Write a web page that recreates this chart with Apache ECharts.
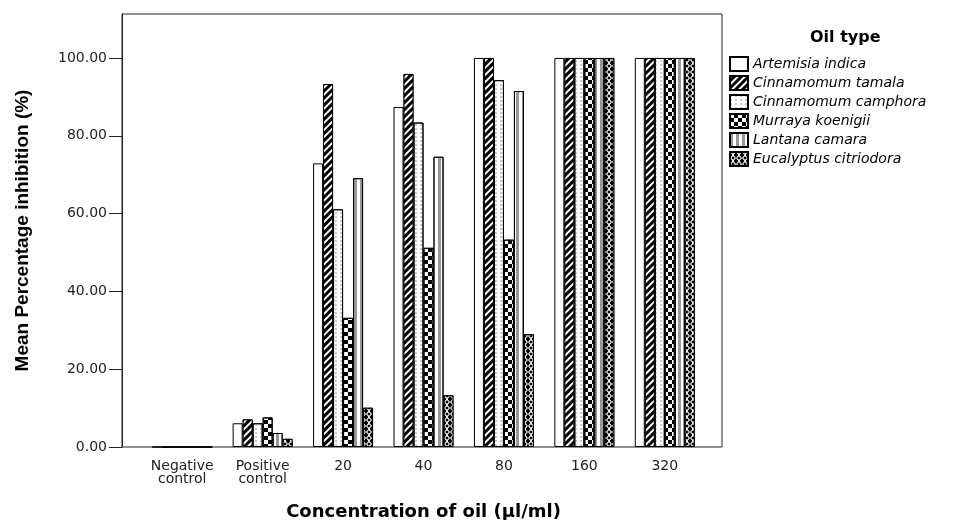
<!DOCTYPE html>
<html>
<head>
<meta charset="utf-8">
<title>Mean Percentage inhibition</title>
<script src="https://cdn.jsdelivr.net/npm/echarts@6/dist/echarts.min.js"></script>
<style>
    html, body { margin: 0; padding: 0; background: #fff; }
    #chart { width: 963px; height: 520px; }
</style>
</head>
<body>
<div id="chart"></div>
<script>
// data
const categories = ['Negative\ncontrol', 'Positive\ncontrol', '20', '40', '80', '160', '320'];
const oilNames = ['Artemisia indica', 'Cinnamomum tamala', 'Cinnamomum camphora', 'Murraya koenigii', 'Lantana camara', 'Eucalyptus citriodora'];
const artemisia = [0, 6.1, 72.9, 87.4, 100, 100, 100];
const tamala = [0, 7.1, 93.3, 95.9, 100, 100, 100];
const camphora = [0, 6.1, 61.1, 83.4, 94.3, 100, 100];
const murraya = [0, 7.6, 33.2, 51.2, 53.3, 100, 100];
const lantana = [0, 3.6, 69.1, 74.6, 91.5, 100, 100];
const eucalyptus = [0, 2.1, 10.1, 13.3, 29.0, 100, 100];
const yTicks = [0, 20, 40, 60, 80, 100];

// fill patterns, one per oil
const fills = [
    { color: '#fff', decal: null },
    { color: '#000', decal: { symbol: 'rect', symbolSize: 1, color: '#fff', dashArrayX: [1, 0], dashArrayY: [2, 3], rotation: -Math.PI / 4 } },
    { color: '#fff', decal: { symbol: 'rect', symbolSize: 0.7, color: '#999', dashArrayX: [2, 3], dashArrayY: [2, 2] } },
    { color: '#fff', decal: { symbol: 'rect', symbolSize: 1, color: '#000', dashArrayX: [[4, 4], [0, 4, 4, 0]], dashArrayY: [4, 0] } },
    { color: '#fff', decal: { symbol: 'rect', symbolSize: 1, color: '#999', dashArrayX: [3, 3], dashArrayY: [1, 0] } },
    { color: '#000', decal: { symbol: 'path://M0,0L2,0L5,3L8,0L10,0L6,5L10,10L8,10L5,7L2,10L0,10L4,5Z', symbolSize: 1, color: '#fff', dashArrayX: [6, 0], dashArrayY: [6, 0] } }
];

function initChart() {
    const chart = echarts.init(document.getElementById('chart'));
    const values = [artemisia, tamala, camphora, murraya, lantana, eucalyptus];

    const series = oilNames.map((name, i) => {
        const itemStyle = {
            color: fills[i].color,
            borderColor: '#000',
            borderWidth: 1
        };
        if (fills[i].decal) itemStyle.decal = fills[i].decal;
        return {
            name: name,
            type: 'bar',
            xAxisIndex: 1,
            yAxisIndex: 1,
            barWidth: 10,
            barGap: '0%',
            itemStyle: itemStyle,
            data: values[i]
        };
    });

    const option = {
        animation: false,
        backgroundColor: '#fff',
        title: {
            text: 'Oil type',
            left: 805,
            top: 24,
            textStyle: {
                fontFamily: 'DejaVu Sans',
                fontSize: 16,
                fontWeight: 'bold',
                color: '#000',
                lineHeight: 18
            }
        },
        legend: {
            orient: 'vertical',
            left: 724,
            top: 51,
            icon: 'rect',
            itemWidth: 18,
            itemHeight: 14,
            itemGap: 3,
            selectedMode: false,
            data: oilNames,
            textStyle: {
                fontFamily: 'DejaVu Sans',
                fontSize: 14,
                fontStyle: 'italic',
                color: '#000'
            }
        },
        grid: [
            // outer frame
            { show: true, left: 122, right: 241, top: 14, bottom: 73, outerBoundsMode: 'none', borderColor: '#222', borderWidth: 1, backgroundColor: 'transparent' },
            // bars sit a little inside the frame
            { left: 142, right: 258, top: 14, bottom: 73, outerBoundsMode: 'none' }
        ],
        xAxis: [
            { gridIndex: 0, type: 'value', min: 0, max: 1, show: false },
            {
                gridIndex: 1,
                type: 'category',
                data: categories,
                name: 'Concentration of oil (µl/ml)',
                nameLocation: 'middle',
                nameGap: 56,
                nameTextStyle: {
                    fontFamily: 'DejaVu Sans',
                    fontSize: 18,
                    fontWeight: 'bold',
                    color: '#000'
                },
                axisLine: { show: false },
                axisTick: { alignWithLabel: true, length: 7, lineStyle: { color: '#222' } },
                axisLabel: {
                    interval: 0,
                    margin: 13,
                    fontFamily: 'DejaVu Sans',
                    fontSize: 14,
                    lineHeight: 13,
                    color: '#222'
                },
                splitLine: { show: false }
            }
        ],
        yAxis: [
            {
                gridIndex: 0,
                type: 'value',
                min: 0,
                max: 111.3,
                name: 'Mean Percentage inhibition (%)',
                nameLocation: 'middle',
                nameRotate: 90,
                nameGap: 90,
                nameTextStyle: {
                    fontFamily: 'Liberation Sans',
                    fontSize: 19,
                    fontWeight: 'bold',
                    color: '#000'
                },
                axisLine: { show: true, lineStyle: { color: '#222' } },
                axisTick: { show: true, length: 13, customValues: yTicks, lineStyle: { color: '#222' } },
                axisLabel: {
                    customValues: yTicks,
                    margin: 15,
                    fontFamily: 'DejaVu Sans',
                    fontSize: 14,
                    color: '#222',
                    formatter: v => v.toFixed(2)
                },
                splitLine: { show: false }
            },
            { gridIndex: 1, type: 'value', min: 0, max: 111.3, show: false }
        ],
        series: series
    };
    chart.setOption(option);
    window.addEventListener('resize', () => chart.resize());
}

document.addEventListener('DOMContentLoaded', initChart);
</script>
</body>
</html>
